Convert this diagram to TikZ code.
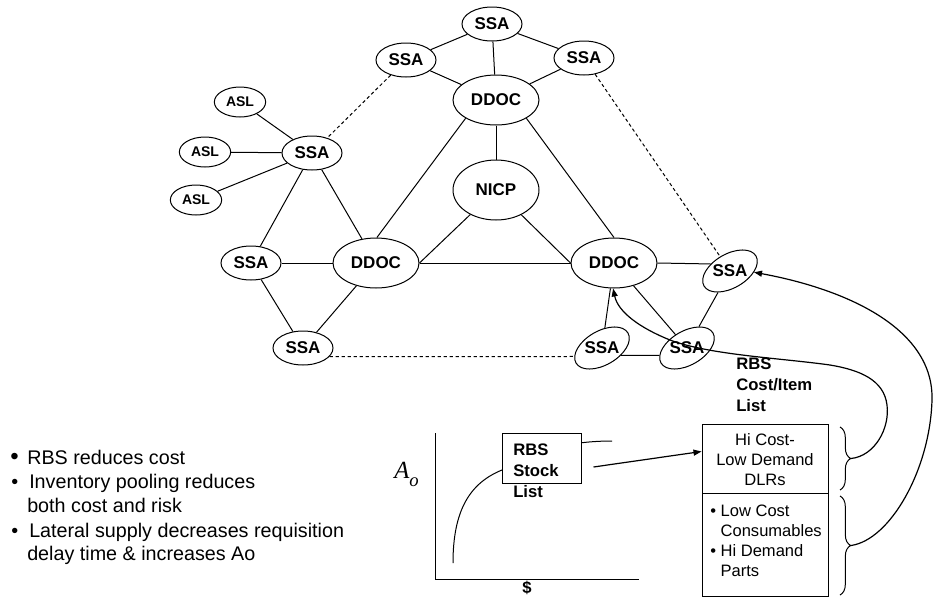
\documentclass[tikz,border=0pt]{standalone}
\usepackage{fontspec}
\setmainfont{Liberation Sans}
\newfontfamily\axisfont{Liberation Serif}
\usetikzlibrary{shapes.geometric,arrows.meta,decorations.pathreplacing,calc}

\begin{document}
\begin{tikzpicture}[x=0.75pt,y=-0.75pt,
  link/.style={line width=0.75pt},
  lateral/.style={line width=0.75pt, dash pattern=on 2.5pt off 2pt},
  flow/.style={line width=0.9pt, -{Triangle[length=6pt,width=4.5pt]}},
  ell/.style={ellipse, draw, line width=0.75pt, fill=white, inner sep=0pt,
    font=\bfseries\fontsize{12.75}{14}\selectfont},
  ssa/.style={ell, minimum width=45pt, minimum height=25.5pt},
  ddoc/.style={ell, minimum width=64.5pt, minimum height=37.5pt},
  asl/.style={ell, minimum width=38.5pt, minimum height=22.5pt,
    font=\bfseries\fontsize{10.5}{12}\selectfont},
  hub/.style={ell, minimum width=64.5pt, minimum height=45pt},
  tilted/.style={ssa, rotate=30},
  tag/.style={inner sep=0pt, font=\bfseries\fontsize{12.75}{14}\selectfont},
  boldtxt/.style={inner sep=0pt, align=left, font=\bfseries\fontsize{12.5}{15.6}\selectfont},
  boxtxt/.style={inner sep=0pt, font=\fontsize{12.4}{15}\selectfont},
  note/.style={inner sep=0pt, anchor=base west, font=\fontsize{14.8}{18}\selectfont},
  curly/.style={line width=0.75pt, decorate, decoration={brace, amplitude=8pt}},
]
\useasboundingbox (0,0) rectangle (933,597);

% ---------- supply network ----------
\node[ssa]  (st)  at (492,24)  {SSA};
\node[ssa]  (slt) at (406,60)  {SSA};
\node[ssa]  (srt) at (584,58)  {SSA};
\node[ddoc] (dt)  at (496,100) {DDOC};
\node[hub]  (nicp) at (496,190) {NICP};
\node[asl]  (a1)  at (240,102) {ASL};
\node[asl]  (a2)  at (205,152) {ASL};
\node[asl]  (a3)  at (196,200) {ASL};
\node[ssa]  (sm)  at (312,153) {SSA};
\node[ssa]  (sl)  at (251,263) {SSA};
\node[ddoc] (dl)  at (376,263) {DDOC};
\node[ssa]  (sbl) at (303,348) {SSA};
\node[ddoc] (dr)  at (614,263) {DDOC};
\node[tilted] (sr) at (730,271) {};
\node[tag] (srt-t) at (sr) {SSA};
\node[tilted] (b1) at (602,348) {};
\node[tag] (b1-t) at (b1) {SSA};
\node[tilted] (b2) at (687,348) {};
\node[tag] (b2-t) at (b2) {SSA};

% solid links
\draw[link] (st) -- (slt);
\draw[link] (st) -- (srt);
\draw[link] (st) -- (dt);
\draw[link] (slt) -- (dt);
\draw[link] (srt) -- (dt);
\draw[link] (dt) -- (nicp);
\draw[link] (dt.-149) -- (dl.88);
\draw[link] (dt.-31) -- (dr.90);
\draw[link] (nicp) -- (dl.east);
\draw[link] (nicp) -- (dr.west);
\draw[link] (dl) -- (dr);
\draw[link] (a1) -- (sm);
\draw[link] (a2) -- (sm);
\draw[link] (a3) -- (sm);
\draw[link] (sm) -- (sl);
\draw[link] (sm) -- (dl);
\draw[link] (sl) -- (dl);
\draw[link] (sl) -- (sbl);
\draw[link] (dl) -- (sbl);
\draw[link] (dr.east) -- (sr.130);
\draw[link] (dr) -- (b1);
\draw[link] (dr) -- (b2);
\draw[link] (b1.-51) -- (b2.165);
\draw[link] (b2) -- (sr);

% lateral (dashed) links
\draw[lateral] (slt) -- (sm);
\draw[lateral] (srt) -- (sr);
\draw[lateral] (sbl.-18) -- (b1.167);

% ---------- availability vs cost chart ----------
\coordinate (yt) at (435,433);
\coordinate (org) at (435,579);
\coordinate (xr) at (639,579);
\draw[link] (yt) -- (org) -- (xr);
\draw[link] (453,563) .. controls (453,510) and (470,483) .. (502,470)
  .. controls (530,455) and (560,441) .. (612,441);
\node[draw, line width=0.75pt, fill=white, minimum width=59.25pt, minimum height=37.5pt,
  inner sep=0pt] (rbs) at (541.5,458) {};
\node[boldtxt, anchor=west] (rbs-t) at (513,471) {RBS\\Stock\\List};
\node[inner sep=0pt, anchor=base west] (ao) at (394,478)
  {\axisfont\itshape\fontsize{18.5}{20}\selectfont A\raisebox{-6.5pt}{\fontsize{14}{14}\selectfont o}};
\node[inner sep=0pt, font=\bfseries\fontsize{12.5}{14}\selectfont] (cost) at (527,588) {\$};

% ---------- cost / item list ----------
\node[boldtxt, anchor=west] (cil) at (736,384.5) {RBS\\Cost/Item\\List};
\node[draw, line width=0.75pt, minimum width=94.5pt, minimum height=51.75pt, inner sep=0pt]
  (hi) at (765,458.5) {};
\node[draw, line width=0.75pt, minimum width=94.5pt, minimum height=77.25pt, inner sep=0pt]
  (lo) at (765,544.5) {};
\node[boxtxt, align=center] (hi-t) at (765,460) {Hi Cost-\\Low Demand\\DLRs};
\node[boxtxt, align=left, anchor=west] (lo-t) at (710,541)
  {\makebox[7.8pt][l]{•}Low Cost\\\hspace*{7.8pt}Consumables\\\makebox[7.8pt][l]{•}Hi Demand\\\hspace*{7.8pt}Parts};

% braces beside the two groups
\coordinate (bu1) at (840,427);
\coordinate (bu2) at (840,490);
\coordinate (bl1) at (840,496);
\coordinate (bl2) at (840,595);
\draw[curly] (bu1) -- (bu2);
\draw[curly] (bl1) -- (bl2);
\coordinate (bu) at (851,458.5);
\coordinate (bl) at (851,545.5);

% flows
\draw[flow] ($(rbs.east)+(12,9)$) -- ($(hi.west)+(0,-7)$);
\draw[flow] (bu) .. controls (875,456) and (890,428) .. (887,405)
  .. controls (884,380) and (860,370) .. (830,365)
  .. controls (780,358) and (710,355) .. (670,340)
  .. controls (640,328) and (618,312) .. (dr.-92);
\draw[flow] (bl) .. controls (890,540) and (930,470) .. (932,400)
  .. controls (934,330) and (850,290) .. (sr.-33);

% ---------- notes ----------
\node[note] (n1) at (10,464) {\makebox[12.75pt][l]{\fontsize{18}{18}\selectfont•}RBS reduces cost};
\node[note] (n2) at (11,488) {\makebox[13.5pt][l]{•}Inventory pooling reduces};
\node[note] (n3) at (27,512) {both cost and risk};
\node[note] (n4) at (11,537) {\makebox[13.5pt][l]{•}Lateral supply decreases requisition};
\node[note] (n5) at (27,560) {delay time \& increases Ao};
\end{tikzpicture}
\end{document}
